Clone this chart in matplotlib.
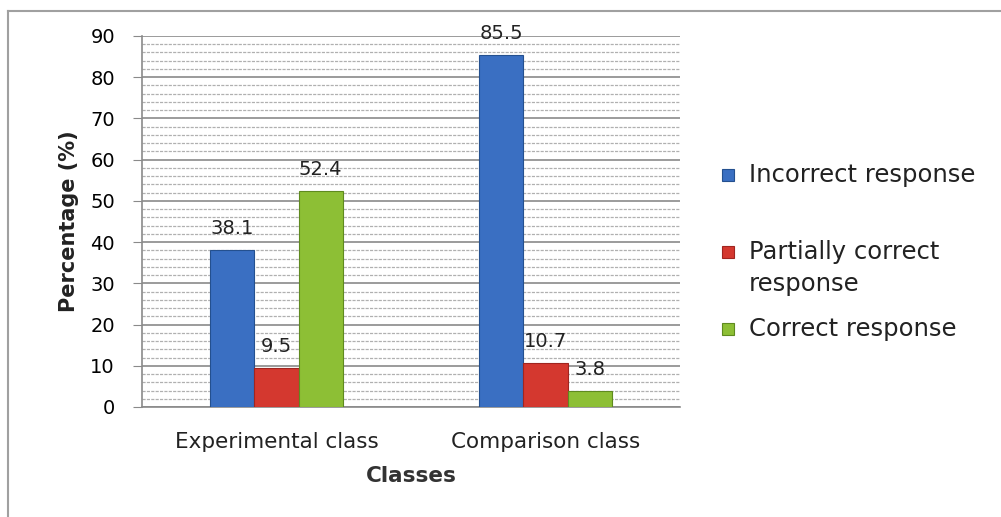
import matplotlib
matplotlib.use("Agg")
import matplotlib.pyplot as plt
import numpy as np
from matplotlib.lines import Line2D
from matplotlib.patches import Rectangle

categories = ["Experimental class", "Comparison class"]
series_names = ["Incorrect response", "Partially correct\nresponse", "Correct response"]
incorrect = [38.1, 85.5]
partial = [9.5, 10.7]
correct = [52.4, 3.8]
series_values = [incorrect, partial, correct]
colors = ["#3a6fc2", "#d4382f", "#8dbf35"]
edges = ["#24508f", "#a02520", "#5f8a1f"]

plt.rcParams['font.family'] = ['DejaVu Sans']
W, H = 1001, 517
fig = plt.figure(figsize=(W/100, H/100), dpi=100)
ax = fig.add_axes([142/W, 1-407/H, (680-142)/W, (407-36)/H])

x = np.arange(len(categories))
bw = 0.164
for i, (vals, c, ec) in enumerate(zip(series_values, colors, edges)):
    pos = x + (i-1)*bw
    ax.bar(pos, vals, width=bw, color=c, edgecolor=ec, linewidth=0.8, zorder=3)
    for p, v in zip(pos, vals):
        ax.annotate(f"{v}", (p, v), xytext=(0, 15.5), textcoords='offset points',
                    ha='center', va='center', fontsize=14, color='#222222', zorder=4)

ax.set_xlim(-0.5, 1.5)
ax.set_ylim(0, 90)
ax.set_yticks(np.arange(0, 91, 10))
ax.set_yticks(np.arange(0, 91, 2), minor=True)
ax.grid(axis='y', which='major', color='#8a8a8a', linewidth=1.2, zorder=0)
ax.grid(axis='y', which='minor', color='#b0b0b0', linewidth=0.9, linestyle=(0, (2.5, 1)), zorder=0)
ax.tick_params(axis='y', which='major', length=6.5, color='#8a8a8a', labelsize=14, pad=13)
ax.tick_params(axis='y', which='minor', length=0)
ax.tick_params(axis='x', length=0, labelsize=15.5, pad=18)
ax.set_xticks(x)
ax.set_xticklabels(categories, color='#222222')
for s in ['top', 'right']:
    ax.spines[s].set_visible(False)
ax.spines['left'].set_color('#8a8a8a')
ax.spines['bottom'].set_color('#8a8a8a')
ax.spines['left'].set_linewidth(1.2)
ax.spines['bottom'].set_linewidth(1.2)

ax.set_xlabel("Classes", fontsize=15.5, fontweight='bold', color='#333333', labelpad=10)
ax.set_ylabel("Percentage (%)", fontsize=15, fontweight='bold', color='#222222', labelpad=8)

# legend (manual layout)
leg_y = [175, 252, 329]
for name, c, ec, yy in zip(series_names, colors, edges, leg_y):
    fig.add_artist(Rectangle((722/W, 1-(yy+6)/H), 12/W, 12/H, facecolor=c, edgecolor=ec,
                             linewidth=0.8, transform=fig.transFigure))
    if '\n' in name:
        fig.text(749/W, 1-(yy-12)/H, name, ha='left', va='top',
                 fontsize=17.5, color='#222222', linespacing=1.4)
    else:
        fig.text(749/W, 1-yy/H, name, ha='left', va='center',
                 fontsize=17.5, color='#222222')

# outer frame lines
fig.add_artist(Line2D([8/W, 1], [1-11/H, 1-11/H], color='#a0a0a0', linewidth=1.5, transform=fig.transFigure))
fig.add_artist(Line2D([8/W, 8/W], [0, 1-11/H], color='#a0a0a0', linewidth=1.5, transform=fig.transFigure))

fig.savefig("out.png", dpi=100, facecolor='white')
